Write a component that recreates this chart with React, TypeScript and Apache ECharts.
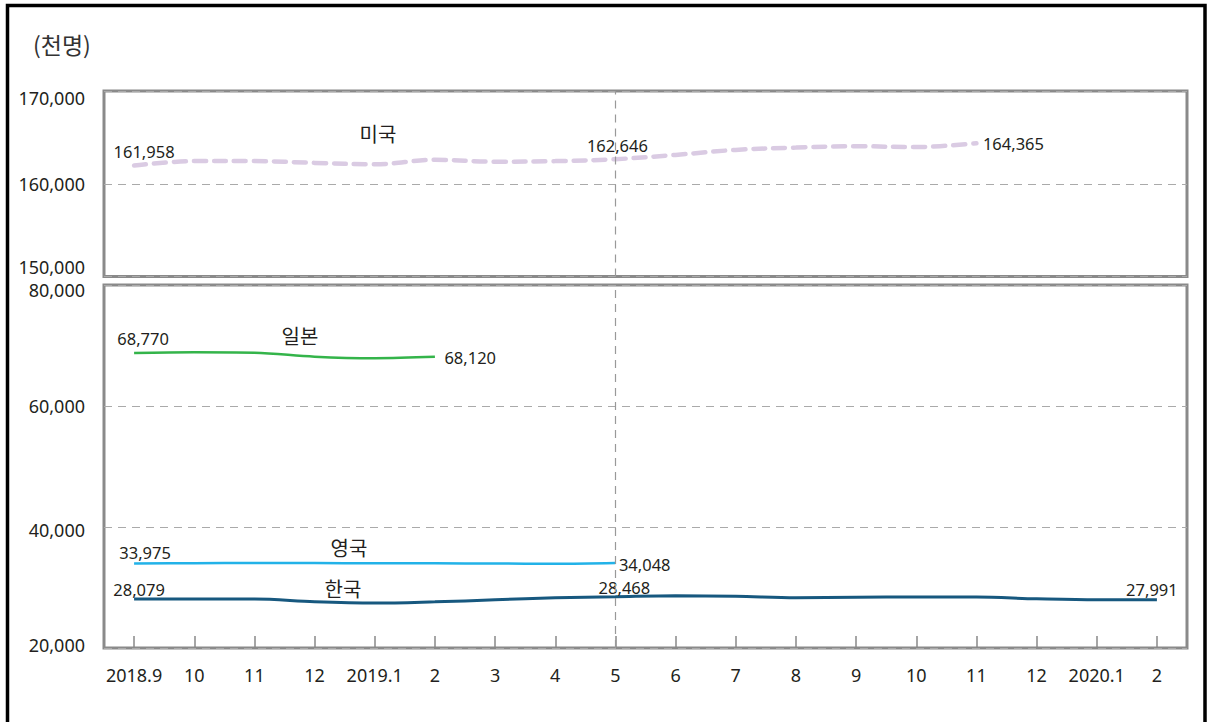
import React, { useEffect, useRef } from "react";
import * as echarts from "echarts";

const categories = [
  "2018.9", "2018.10", "2018.11", "2018.12", "2019.1", "2019.2", "2019.3", "2019.4", "2019.5",
  "2019.6", "2019.7", "2019.8", "2019.9", "2019.10", "2019.11", "2019.12", "2020.1", "2020.2",
];
const tickLabels = ["2018.9", "10", "11", "12", "2019.1", "2", "3", "4", "5", "6", "7", "8", "9", "10", "11", "12", "2020.1", "2"];

const usValues = [161958, 162440, 162440, 162250, 162100, 162580, 162380, 162440, 162646, 163110, 163650, 163900, 164050, 163950, 164365];
const japanValues = [68770, 68890, 68810, 68150, 67900, 68120];
const ukValues = [33975, 34010, 34040, 34030, 34000, 33990, 33960, 33920, 34048];
const koreaValues = [28079, 28080, 28080, 27630, 27420, 27630, 27960, 28300, 28468, 28630, 28550, 28300, 28380, 28430, 28420, 28130, 27960, 27991];

const topTicks = [150000, 160000, 170000];
const bottomTicks = [20000, 40000, 60000, 80000];
const markMonth = "2019.5";

const TXT = "#231f20";
const NUM_FONT = "Noto Sans";
const KR_FONT = "Noto Sans CJK KR";

const fmt = (v: number) => v.toLocaleString("en-US");

type LabelSpec = { idx: number; position: string; offset: number[]; distance?: number };

function withLabels(values: number[], specs: LabelSpec[]) {
  return values.map((v, i) => {
    const s = specs.find((x) => x.idx === i);
    if (!s) return { value: v, label: { show: false } };
    return {
      value: v,
      label: {
        show: true,
        position: s.position,
        offset: s.offset,
        distance: s.distance ?? 5,
        formatter: fmt(v),
        color: TXT,
        fontSize: 16.5,
        fontFamily: NUM_FONT,
      },
    };
  });
}

export default function App() {
  const ref = useRef<HTMLDivElement>(null);
  useEffect(() => {
    if (!ref.current) return;
    const chart = echarts.init(ref.current, undefined, { renderer: "svg" });
    const axisLabelBase = { color: TXT, fontSize: 18, fontFamily: NUM_FONT };
    const rich = (pt: number, pb: number) => ({ ...axisLabelBase, padding: [pt, 0, pb, 0] });
    const splitDash = { show: true, lineStyle: { color: "#aaaaaa", type: [8, 6], width: 1 } };
    const markLine = {
      silent: true,
      symbol: ["none", "none"],
      label: { show: false },
      lineStyle: { color: "#999999", type: [8, 6], width: 1.2 },
      data: [{ xAxis: markMonth }],
    };
    const hiddenSymbol = { symbol: "circle", symbolSize: 1, showSymbol: true, showAllSymbol: true, itemStyle: { color: "rgba(0,0,0,0)" } };

    const option: any = {
      animation: false,
      backgroundColor: "#ffffff",
      grid: [
        { left: 104, top: 91, width: 1083, height: 185.5, show: true, borderColor: "#8a8a8a", borderWidth: 3, backgroundColor: "transparent" },
        { left: 104, top: 285, width: 1083, height: 363, show: true, borderColor: "#8a8a8a", borderWidth: 3, backgroundColor: "transparent" },
      ],
      xAxis: [
        {
          type: "category", gridIndex: 0, data: categories, boundaryGap: true,
          axisLine: { show: false }, axisTick: { show: false }, axisLabel: { show: false }, splitLine: { show: false },
        },
        {
          type: "category", gridIndex: 1, data: categories, boundaryGap: true,
          axisLine: { show: false },
          axisTick: { show: true, inside: true, length: 12, alignWithLabel: true, interval: 0, lineStyle: { color: "#888888", width: 1.5 } },
          axisLabel: { ...axisLabelBase, interval: 0, margin: 18, formatter: (_v: string, i: number) => tickLabels[i] },
          splitLine: { show: false },
        },
      ],
      yAxis: [
        {
          type: "value", gridIndex: 0, min: topTicks[0], max: topTicks[topTicks.length - 1], interval: 10000,
          axisLine: { show: false }, axisTick: { show: false },
          axisLabel: {
            ...axisLabelBase, margin: 19,
            formatter: (v: number) => (v === 170000 ? `{dn|${fmt(v)}}` : v === 150000 ? `{up|${fmt(v)}}` : `{n|${fmt(v)}}`),
            rich: { dn: rich(14, 0), up: rich(0, 20), n: rich(0, 0) },
          },
          splitLine: splitDash,
        },
        {
          type: "value", gridIndex: 1, min: bottomTicks[0], max: bottomTicks[bottomTicks.length - 1], interval: 20000,
          axisLine: { show: false }, axisTick: { show: false },
          axisLabel: {
            ...axisLabelBase, margin: 19,
            formatter: (v: number) =>
              v === 80000 ? `{a|${fmt(v)}}` : v === 40000 ? `{b|${fmt(v)}}` : v === 20000 ? `{c|${fmt(v)}}` : `{n|${fmt(v)}}`,
            rich: { a: rich(9, 0), b: rich(6, 0), c: rich(0, 6), n: rich(0, 0) },
          },
          splitLine: splitDash,
        },
      ],
      series: [
        {
          name: "미국", type: "line", xAxisIndex: 0, yAxisIndex: 0, smooth: 0.35, ...hiddenSymbol,
          lineStyle: { color: "#dacbe3", width: 4.5, type: [12, 8], cap: "round" },
          data: withLabels(usValues, [
            { idx: 0, position: "top", offset: [10, 0] },
            { idx: 8, position: "top", offset: [2, 0] },
            { idx: usValues.length - 1, position: "right", offset: [0, 0], distance: 6 },
          ]),
          markLine,
        },
        {
          name: "일본", type: "line", xAxisIndex: 1, yAxisIndex: 1, smooth: 0.35, ...hiddenSymbol,
          lineStyle: { color: "#34b44a", width: 2.5 },
          data: withLabels(japanValues, [
            { idx: 0, position: "top", offset: [9, 0] },
            { idx: japanValues.length - 1, position: "right", offset: [0, 1], distance: 9 },
          ]),
        },
        {
          name: "영국", type: "line", xAxisIndex: 1, yAxisIndex: 1, smooth: 0.35, ...hiddenSymbol,
          lineStyle: { color: "#22b2e8", width: 2.5 },
          data: withLabels(ukValues, [
            { idx: 0, position: "top", offset: [11, 3] },
            { idx: ukValues.length - 1, position: "right", offset: [0, 1], distance: 3 },
          ]),
        },
        {
          name: "한국", type: "line", xAxisIndex: 1, yAxisIndex: 1, smooth: 0.35, ...hiddenSymbol,
          lineStyle: { color: "#17587f", width: 3 },
          data: withLabels(koreaValues, [
            { idx: 0, position: "top", offset: [5, 4] },
            { idx: 8, position: "top", offset: [9, 5] },
            { idx: koreaValues.length - 1, position: "top", offset: [-5, 4] },
          ]),
          markLine,
        },
      ],
      graphic: [
        { type: "rect", shape: { x: 7.5, y: 5.5, width: 1197.5, height: 760 }, style: { fill: "none", stroke: "#000000", lineWidth: 3.5 }, silent: true, z: 100 },
        { type: "text", x: 33, y: 44, style: { text: "(천명)", fill: "#333333", font: `23px "${KR_FONT}"`, textAlign: "left", textVerticalAlign: "middle" } },
        { type: "text", x: 378, y: 133, style: { text: "미국", fill: TXT, font: `20px "${KR_FONT}"`, textAlign: "center", textVerticalAlign: "middle" } },
        { type: "text", x: 300, y: 335, style: { text: "일본", fill: TXT, font: `20px "${KR_FONT}"`, textAlign: "center", textVerticalAlign: "middle" } },
        { type: "text", x: 349, y: 547, style: { text: "영국", fill: TXT, font: `20px "${KR_FONT}"`, textAlign: "center", textVerticalAlign: "middle" } },
        { type: "text", x: 343, y: 588, style: { text: "한국", fill: TXT, font: `20px "${KR_FONT}"`, textAlign: "center", textVerticalAlign: "middle" } },
      ],
    };
    chart.setOption(option);
    return () => chart.dispose();
  }, []);
  return <div ref={ref} style={{ position: "absolute", left: 0, top: 0, width: 1210, height: 722 }} />;
}
